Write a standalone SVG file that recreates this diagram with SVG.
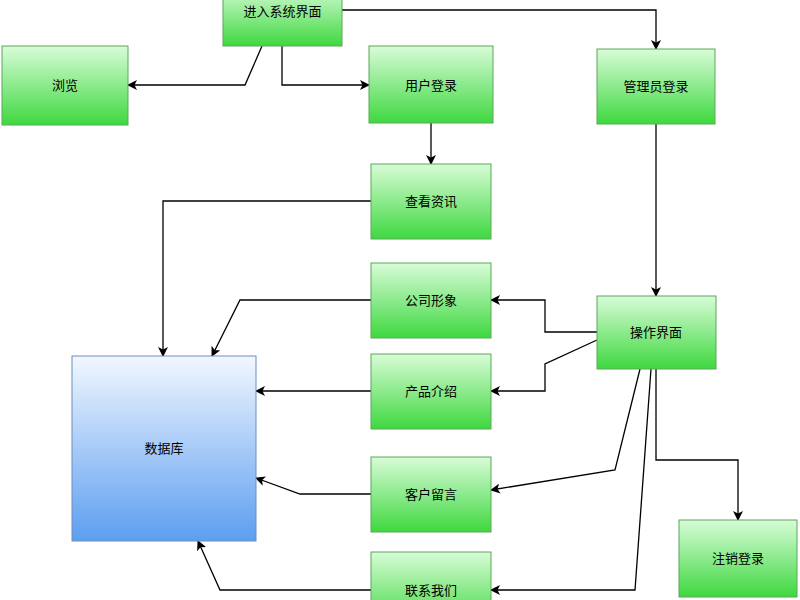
<svg xmlns="http://www.w3.org/2000/svg" width="800" height="600" viewBox="0 0 800 600">
<defs>
<linearGradient id="g" x1="0" y1="0" x2="0" y2="1"><stop offset="0" stop-color="#d8fcd8"/><stop offset="1" stop-color="#3fd83f"/></linearGradient>
<linearGradient id="b" x1="0" y1="0" x2="0" y2="1"><stop offset="0" stop-color="#f2f7ff"/><stop offset="1" stop-color="#5c9ef0"/></linearGradient>
<marker id="a" markerWidth="10" markerHeight="10" refX="9" refY="5" orient="auto" markerUnits="userSpaceOnUse"><path d="M0,0 L10,5 L0,10 L2.5,5 Z" fill="#000"/></marker>
<style>
.n{fill:url(#g);stroke:#5aa85a;stroke-width:1}
.t{font-family:"Liberation Sans","Noto Sans CJK SC",sans-serif;font-size:13px;text-anchor:middle;dominant-baseline:central;fill:#000}
.c path{fill:none;stroke:#000;stroke-width:1.3;marker-end:url(#a)}
</style>
</defs>
<rect width="800" height="600" fill="#fff"/>
<g class="c">
<path d="M262,46 L245,85 L128,85"/>
<path d="M282,46 L282,85 L369,85"/>
<path d="M342,10 L656,10 L656,49"/>
<path d="M431,123 L431,164"/>
<path d="M371,201 L163,201 L163,356"/>
<path d="M371,300 L240,300 L212,356"/>
<path d="M597,332 L545,332 L545,300 L491,300"/>
<path d="M597,340 L545,364 L545,391 L491,391"/>
<path d="M371,391 L256,391"/>
<path d="M640,369 L615,470 L491,490"/>
<path d="M371,494 L300,494 L256,478"/>
<path d="M651,369 L635,590 L491,590"/>
<path d="M371,590 L220,590 L198,541"/>
<path d="M656,369 L656,460 L738,460 L738,520"/>
<path d="M656,124 L656,296"/>
</g>
<g id="enter"><rect class="n" x="223" y="-15" width="119" height="61"/><text class="t" x="282.5" y="11">进入系统界面</text></g>
<g id="browse"><rect class="n" x="2" y="46" width="126" height="79"/><text class="t" x="65" y="85">浏览</text></g>
<g id="userlogin"><rect class="n" x="369" y="46" width="124" height="77"/><text class="t" x="431" y="85">用户登录</text></g>
<g id="adminlogin"><rect class="n" x="597" y="49" width="118" height="75"/><text class="t" x="656" y="86">管理员登录</text></g>
<g id="news"><rect class="n" x="371" y="164" width="120" height="75"/><text class="t" x="431" y="201">查看资讯</text></g>
<g id="company"><rect class="n" x="371" y="263" width="120" height="75"/><text class="t" x="431" y="300">公司形象</text></g>
<g id="op"><rect class="n" x="597" y="296" width="119" height="73"/><text class="t" x="656" y="332">操作界面</text></g>
<g id="product"><rect class="n" x="371" y="354" width="120" height="75"/><text class="t" x="431" y="391">产品介绍</text></g>
<g id="db"><rect x="72" y="356" width="184" height="185" fill="url(#b)" stroke="#6c8ebf"/><text class="t" x="164" y="448">数据库</text></g>
<g id="msg"><rect class="n" x="371" y="457" width="120" height="75"/><text class="t" x="431" y="494">客户留言</text></g>
<g id="logout"><rect class="n" x="679" y="520" width="118" height="77"/><text class="t" x="738" y="558">注销登录</text></g>
<g id="contact"><rect class="n" x="371" y="552" width="120" height="75"/><text class="t" x="431" y="590">联系我们</text></g>
</svg>
